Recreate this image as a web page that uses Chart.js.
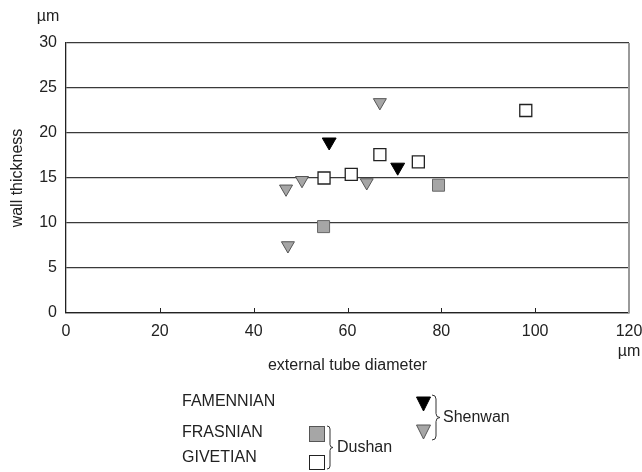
<!DOCTYPE html>
<html>
<head>
<meta charset="utf-8">
<script src="https://cdn.jsdelivr.net/npm/chart.js@4.4.1/dist/chart.umd.min.js"></script>
<style>
  body { margin: 0; background: #fff; }
  #wrap { width: 642px; height: 472px; }
</style>
</head>
<body>
<div id="wrap"><canvas id="tubeChart" width="642" height="472"></canvas></div>
<script>
const xTicks = [0, 20, 40, 60, 80, 100, 120];
const yTicks = [0, 5, 10, 15, 20, 25, 30];

// Famennian, Shenwan (black triangles)
const famennianX = [56.1, 70.7];
const famennianY = [19.0, 16.2];
// Frasnian, Shenwan (grey triangles)
const frasnianShenwanX = [66.9, 50.3, 64.1, 46.9, 47.3];
const frasnianShenwanY = [23.4, 14.75, 14.5, 13.8, 7.5];
// Frasnian, Dushan (grey squares)
const frasnianDushanX = [79.4, 54.9];
const frasnianDushanY = [14.2, 9.6];
// Givetian, Dushan (open squares)
const givetianDushanX = [98.0, 66.9, 75.1, 55.0, 60.8];
const givetianDushanY = [22.5, 17.6, 16.8, 15.0, 15.4];

const stageLabels = ["FAMENNIAN", "FRASNIAN", "GIVETIAN"];
const siteLabels = ["Dushan", "Shenwan"];

const FONT = "Liberation Sans, Arial, sans-serif";
const GREY = "#a6a6a6";

const toPoints = (xs, ys) => xs.map((x, i) => ({ x: x, y: ys[i] }));

// little "}" shape for the legend
function brace(ctx, x, top, bottom, w) {
  const mid = (top + bottom) / 2;
  const h = w / 2;
  ctx.beginPath();
  ctx.moveTo(x, top);
  ctx.quadraticCurveTo(x + h, top, x + h, top + h);
  ctx.lineTo(x + h, mid - h);
  ctx.quadraticCurveTo(x + h, mid, x + w, mid);
  ctx.quadraticCurveTo(x + h, mid, x + h, mid + h);
  ctx.lineTo(x + h, bottom - h);
  ctx.quadraticCurveTo(x + h, bottom, x, bottom);
  ctx.stroke();
}

function downTriangle(ctx, cx, top, w, h, fill, stroke) {
  ctx.beginPath();
  ctx.moveTo(cx - w / 2, top);
  ctx.lineTo(cx + w / 2, top);
  ctx.lineTo(cx, top + h);
  ctx.closePath();
  ctx.fillStyle = fill;
  ctx.fill();
  ctx.strokeStyle = stroke;
  ctx.lineWidth = 1;
  ctx.stroke();
}

const extrasPlugin = {
  id: "extras",
  afterDraw(chart) {
    const ctx = chart.ctx;
    const area = chart.chartArea;
    const xs = chart.scales.x;
    ctx.save();

    // grey right frame
    ctx.strokeStyle = "#9a9a9a";
    ctx.lineWidth = 2;
    ctx.beginPath();
    ctx.moveTo(area.right, area.top);
    ctx.lineTo(area.right, area.bottom);
    ctx.stroke();

    // inward tick marks on x axis
    ctx.strokeStyle = "#222";
    ctx.lineWidth = 1;
    xTicks.slice(1, -1).forEach((v) => {
      const px = Math.round(xs.getPixelForValue(v)) + 0.5;
      ctx.beginPath();
      ctx.moveTo(px, area.bottom);
      ctx.lineTo(px, area.bottom - 5);
      ctx.stroke();
    });

    ctx.fillStyle = "#222";
    ctx.font = "16px " + FONT;
    ctx.textAlign = "center";
    ctx.textBaseline = "middle";
    ctx.fillText("µm", 48, 17);
    ctx.fillText("µm", area.right, 352);
    ctx.fillText("external tube diameter", (area.left + area.right) / 2, 366);

    ctx.save();
    ctx.translate(18, (area.top + area.bottom) / 2);
    ctx.rotate(-Math.PI / 2);
    ctx.fillText("wall thickness", 0, 0);
    ctx.restore();

    // legend
    ctx.textAlign = "left";
    ctx.fillText(stageLabels[0], 182, 402);
    ctx.fillText(stageLabels[1], 182, 433);
    ctx.fillText(stageLabels[2], 182, 458);

    ctx.lineWidth = 1;
    ctx.fillStyle = GREY;
    ctx.strokeStyle = "#555";
    ctx.fillRect(309, 426, 15, 15);
    ctx.strokeRect(309.5, 426.5, 15, 15);
    ctx.fillStyle = "#fff";
    ctx.strokeStyle = "#222";
    ctx.fillRect(309, 455, 15, 14);
    ctx.strokeRect(309.5, 455.5, 15, 14);

    downTriangle(ctx, 423.5, 397, 14, 14, "#000", "#000");
    downTriangle(ctx, 423.5, 425, 14, 14, GREY, "#555");

    ctx.strokeStyle = "#333";
    ctx.lineWidth = 1;
    brace(ctx, 327, 426, 469, 6);
    brace(ctx, 432, 395, 440, 8);

    ctx.fillStyle = "#222";
    ctx.fillText(siteLabels[0], 337, 448);
    ctx.fillText(siteLabels[1], 443, 418);

    ctx.restore();
  },
};

const ctx = document.getElementById("tubeChart").getContext("2d");

new Chart(ctx, {
  type: "scatter",
  data: {
    datasets: [
      {
        label: "FAMENNIAN Shenwan",
        data: toPoints(famennianX, famennianY),
        pointStyle: "triangle",
        rotation: 180,
        radius: 8,
        backgroundColor: "#000",
        borderColor: "#000",
        borderWidth: 1,
      },
      {
        label: "FRASNIAN Shenwan",
        data: toPoints(frasnianShenwanX, frasnianShenwanY),
        pointStyle: "triangle",
        rotation: 180,
        radius: 7.5,
        backgroundColor: GREY,
        borderColor: "#555",
        borderWidth: 1,
      },
      {
        label: "FRASNIAN Dushan",
        data: toPoints(frasnianDushanX, frasnianDushanY),
        pointStyle: "rect",
        radius: 8.5,
        backgroundColor: GREY,
        borderColor: "#666",
        borderWidth: 1,
      },
      {
        label: "GIVETIAN Dushan",
        data: toPoints(givetianDushanX, givetianDushanY),
        pointStyle: "rect",
        radius: 8.5,
        backgroundColor: "#fff",
        borderColor: "#222",
        borderWidth: 1.3,
      },
    ],
  },
  options: {
    responsive: false,
    animation: false,
    events: [],
    layout: {
      padding: { top: 43, right: 13, bottom: 129, left: 0 },
    },
    scales: {
      x: {
        type: "linear",
        min: 0,
        max: 120,
        afterBuildTicks: (scale) => {
          scale.ticks = xTicks.map((v) => ({ value: v }));
        },
        afterFit: (scale) => {
          scale.height = 30;
          scale.paddingLeft = 0;
          scale.paddingRight = 0;
        },
        ticks: {
          padding: 9,
          color: "#222",
          font: { size: 16, family: FONT },
          maxRotation: 0,
        },
        grid: { display: false, drawTicks: false },
        border: { display: true, color: "#222", width: 1.3 },
      },
      y: {
        type: "linear",
        min: 0,
        max: 30,
        afterBuildTicks: (scale) => {
          scale.ticks = yTicks.map((v) => ({ value: v }));
        },
        afterFit: (scale) => {
          scale.width = 66;
        },
        ticks: {
          padding: 9,
          color: "#222",
          font: { size: 16, family: FONT },
        },
        grid: { color: "#3a3a3a", lineWidth: 1.2, drawTicks: false },
        border: { display: true, color: "#222", width: 1.3 },
      },
    },
    plugins: {
      legend: { display: false },
      tooltip: { enabled: false },
    },
  },
  plugins: [extrasPlugin],
});
</script>
</body>
</html>
